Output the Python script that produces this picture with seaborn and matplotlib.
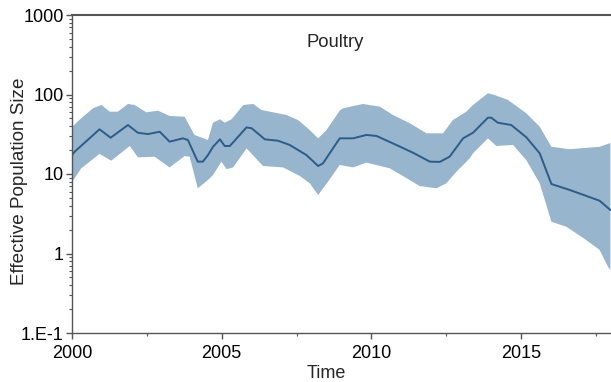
import numpy as np
import pandas as pd
import matplotlib
matplotlib.use("Agg")
import matplotlib.pyplot as plt
import matplotlib.ticker as mticker
import seaborn as sns

# ---- data ----
med_years = [2000.0, 2000.09, 2000.92, 2001.29, 2001.87, 2002.20, 2002.54, 2002.93, 2003.26,
             2003.70, 2003.87, 2004.20, 2004.37, 2004.54, 2004.71, 2004.94, 2005.10, 2005.27,
             2005.83, 2006.00, 2006.44, 2006.88, 2007.27, 2007.83, 2008.22, 2008.38, 2008.94,
             2009.39, 2009.83, 2010.17, 2010.83, 2011.39, 2011.95, 2012.28, 2012.61, 2013.06,
             2013.39, 2013.89, 2014.00, 2014.22, 2014.67, 2015.17, 2015.62, 2016.01, 2016.62,
             2017.62, 2017.98]
med_values = [17.3, 19.1, 36.5, 28.6, 41.3, 33.0, 31.8, 34.0, 25.5,
              28.1, 26.8, 14.3, 14.3, 17.3, 22.0, 27.3, 22.5, 22.5,
              38.6, 37.6, 27.3, 26.2, 23.2, 17.3, 12.6, 13.6, 28.1,
              28.1, 31.0, 30.1, 23.2, 18.5, 14.3, 14.2, 16.5, 28.1,
              33.0, 51.1, 51.1, 44.2, 41.3, 29.0, 18.2, 7.48, 6.30,
              4.61, 3.52]

upper_years = [2000.0, 2000.31, 2000.70, 2000.98, 2001.26, 2001.53, 2001.87, 2002.09, 2002.48,
               2002.87, 2003.26, 2003.76, 2004.09, 2004.54, 2004.71, 2004.94, 2005.10, 2005.33,
               2005.72, 2006.05, 2006.33, 2007.16, 2007.55, 2007.94, 2008.22, 2008.50, 2008.94,
               2009.05, 2009.72, 2010.28, 2010.72, 2011.28, 2011.84, 2012.39, 2012.72, 2013.17,
               2013.39, 2013.89, 2014.11, 2014.56, 2015.17, 2015.62, 2016.01, 2016.62, 2017.62,
               2017.98]
upper_values = [39.0, 50.3, 67.0, 73.8, 60.8, 60.8, 76.0, 73.8, 59.7,
                62.6, 53.7, 52.6, 31.0, 26.8, 44.2, 48.8, 44.2, 48.8,
                73.8, 76.0, 63.8, 55.2, 47.7, 35.7, 28.1, 35.7, 62.6,
                67.0, 76.0, 70.3, 55.2, 43.5, 32.5, 32.5, 47.7, 60.8,
                73.8, 103.5, 98.6, 85.3, 58.1, 39.3, 22.0, 20.5, 22.0,
                24.5]

lower_years = [2000.0, 2000.31, 2000.92, 2001.31, 2001.93, 2002.20, 2002.76, 2003.26, 2003.76,
               2003.93, 2004.20, 2004.54, 2004.71, 2004.99, 2005.16, 2005.38, 2005.83, 2006.38,
               2007.05, 2007.61, 2007.94, 2008.22, 2008.55, 2008.94, 2009.39, 2009.83, 2010.61,
               2011.05, 2011.61, 2012.17, 2012.50, 2012.84, 2013.28, 2013.39, 2013.89, 2014.17,
               2014.73, 2015.17, 2015.62, 2016.01, 2016.51, 2017.17, 2017.62, 2017.90, 2017.98]
lower_values = [7.93, 11.8, 17.9, 14.7, 22.5, 16.2, 16.5, 12.1, 16.8,
                16.5, 6.61, 8.41, 9.70, 14.3, 11.5, 12.1, 21.0, 12.6,
                12.1, 9.44, 7.64, 5.45, 8.00, 13.0, 12.1, 13.9, 11.8,
                9.44, 7.06, 6.61, 7.64, 10.7, 15.7, 18.2, 28.1, 22.5,
                23.2, 15.0, 7.64, 2.51, 2.17, 1.48, 1.11, 0.68, 0.62]

x_ticks = [2000, 2005, 2010, 2015]
y_ticks = [0.1, 1, 10, 100, 1000]
y_tick_labels = ["1.E-1", "1", "10", "100", "1000"]

# ---- plot ----
sns.set_style("ticks")
plt.rcParams["font.family"] = ["Liberation Sans", "DejaVu Sans"]

fig = plt.figure(figsize=(6.11, 3.82), dpi=100)
ax = fig.add_axes([72 / 611, 1 - 333 / 382, 539 / 611, 318 / 382])

band_color = "#97b5cd"
line_color = "#2a5d88"

poly_x = np.concatenate([upper_years, lower_years[::-1]])
poly_y = np.concatenate([upper_values, lower_values[::-1]])
ax.fill(poly_x, poly_y, color=band_color, lw=0, zorder=1)

df = pd.DataFrame({"Time": med_years, "Ne": med_values})
sns.lineplot(data=df, x="Time", y="Ne", ax=ax, color=line_color, lw=1.4, zorder=2)

ax.set_yscale("log")
ax.set_xlim(2000, 2018)
ax.set_ylim(0.1, 1000)

ax.set_xticks(x_ticks)
ax.set_xticklabels([str(t) for t in x_ticks])
ax.xaxis.set_minor_locator(mticker.MultipleLocator(2.5))
ax.set_yticks(y_ticks)
ax.set_yticklabels(y_tick_labels)
ax.yaxis.set_minor_locator(mticker.LogLocator(base=10, subs=np.arange(2, 10)))
ax.yaxis.set_minor_formatter(mticker.NullFormatter())

ax.tick_params(axis="both", which="major", direction="out", length=4, width=1,
               color="#555555", labelsize=13, labelcolor="black")
ax.tick_params(axis="both", which="minor", direction="out", length=2.5, width=0.8,
               color="#555555")
ax.tick_params(axis="x", which="major", pad=5)
ax.tick_params(axis="y", which="major", pad=2)

for side in ["left", "bottom"]:
    ax.spines[side].set_color("#555555")
    ax.spines[side].set_linewidth(1.0)
ax.spines["top"].set_visible(True)
ax.spines["top"].set_color("#555555")
ax.spines["top"].set_linewidth(1.5)
ax.spines["right"].set_visible(False)

ax.set_xlabel("Time", fontsize=13, labelpad=0)
ax.xaxis.set_label_coords((326 - 72) / 539, -0.10)
ax.set_ylabel("Effective Population Size", fontsize=13.6)
ax.yaxis.set_label_coords((28 - 72) / 539, (333 - 181.7) / 318)

ax.text(0.488, 0.912, "Poultry", transform=ax.transAxes, ha="center", va="center",
        fontsize=13.3)

fig.savefig("out.png", dpi=100)
